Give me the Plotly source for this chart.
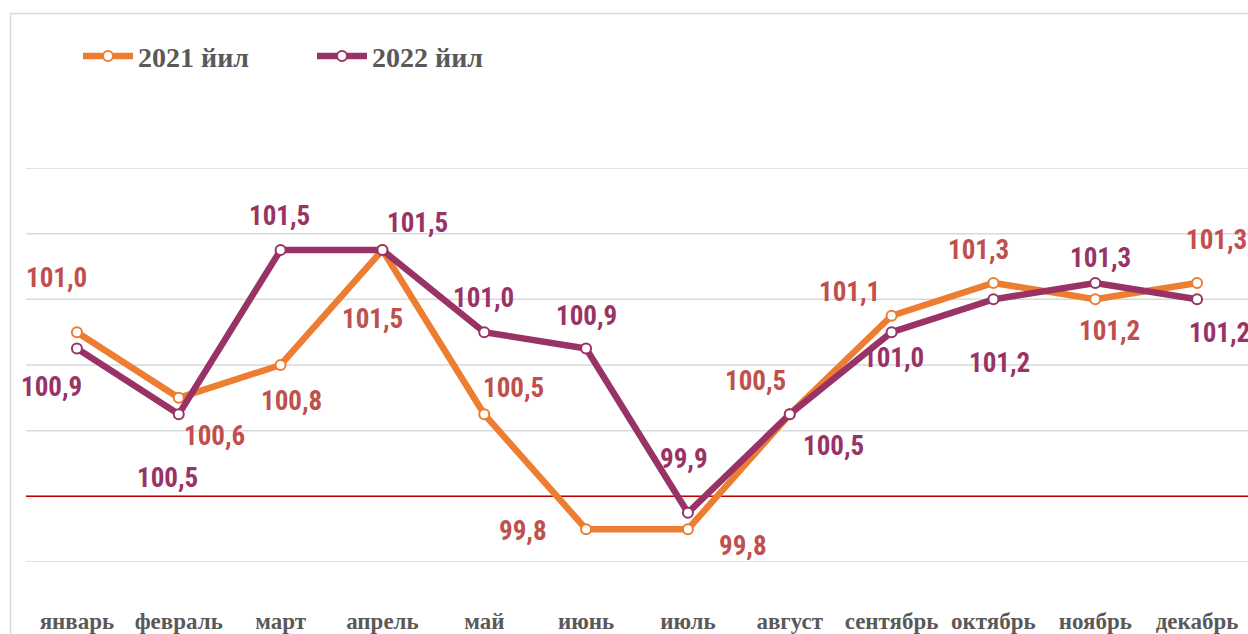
import plotly.graph_objects as go

months = ["январь", "февраль", "март", "апрель", "май", "июнь", "июль",
          "август", "сентябрь", "октябрь", "ноябрь", "декабрь"]
y2021 = [101.0, 100.6, 100.8, 101.5, 100.5, 99.8, 99.8, 100.5, 101.1, 101.3, 101.2, 101.3]
y2022 = [100.9, 100.5, 101.5, 101.5, 101.0, 100.9, 99.9, 100.5, 101.0, 101.2, 101.3, 101.2]
series_names = ["2021 йил", "2022 йил"]
grid_levels = [99.6, 100.0, 100.4, 100.8, 101.2, 101.6, 102.0]
reference_level = 100.0

# label offsets (pixels) relative to each point: (xshift, yshift)
off2021 = [(-20, 54), (36, -38), (11, -36), (-10, -69), (29, 26), (-63, -2),
           (55, -17), (-34, 33), (-42, 24), (-15, 33), (14, -32), (19, 43)]
off2022 = [(-25, -38), (-11, -64), (-1, 34), (35, 27), (-1, 34), (0, 33),
           (-4, 54), (44, -32), (2, -26), (6, -64), (5, 25), (22, -34)]

line_colors = ["#ED7D31", "#993366"]
label_colors = ["#C0504D", "#993366"]

W, H = 1248, 634
ML, MR, MT, MB = 26, 0, 168, 67
plot_w = W - ML - MR
plot_h = H - MT - MB

fig = go.Figure()
for name, ys, lc in zip(series_names, [y2021, y2022], line_colors):
    fig.add_trace(go.Scatter(
        x=months, y=ys, name="<b>" + name + "</b>", mode="lines+markers",
        line=dict(color=lc, width=6.5),
        marker=dict(size=10, color="white", line=dict(color=lc, width=2)),
        hoverinfo="skip",
    ))

label_font = "Liberation Sans Narrow, Arial Narrow, Roboto Condensed, Arial, sans-serif"
annotations = []
for ys, offs, col in [(y2021, off2021, label_colors[0]), (y2022, off2022, label_colors[1])]:
    for m, v, (dx, dy) in zip(months, ys, offs):
        annotations.append(dict(
            x=m, y=v, xref="x", yref="y",
            text="<b>" + f"{v:.1f}".replace(".", ",") + "</b>",
            showarrow=False, xshift=dx, yshift=dy,
            font=dict(family=label_font, size=27, color=col),
        ))

def px_to_paper_x(px):
    return (px - ML) / plot_w

def px_to_paper_y(py):
    return (H - MB - py) / plot_h

shapes = [
    dict(type="rect", xref="paper", yref="paper",
         x0=px_to_paper_x(10.5), x1=px_to_paper_x(1400),
         y0=px_to_paper_y(800), y1=px_to_paper_y(11.5),
         line=dict(color="#D9D9D9", width=1.5), layer="below"),
]
for g in grid_levels:
    shapes.append(dict(type="line", xref="paper", yref="y", x0=0, x1=1, y0=g, y1=g,
                       line=dict(color="#D9D9D9", width=1.5), layer="below"))
shapes.append(dict(type="line", xref="paper", yref="y", x0=0, x1=1,
                   y0=reference_level, y1=reference_level,
                   line=dict(color="#C00000", width=1.5), layer="below"))

fig.update_layout(
    width=W, height=H,
    margin=dict(l=ML, r=MR, t=MT, b=MB),
    paper_bgcolor="white", plot_bgcolor="white",
    showlegend=True,
    legend=dict(
        orientation="h", x=px_to_paper_x(78), y=px_to_paper_y(55),
        xanchor="left", yanchor="middle",
        font=dict(family="Liberation Serif, Times New Roman, serif", size=28, color="#595959"),
        itemwidth=50, entrywidth=169, entrywidthmode="pixels",
        bgcolor="rgba(0,0,0,0)",
    ),
    xaxis=dict(
        type="category", range=[-0.5, 11.5], showgrid=False, zeroline=False,
        showline=False, ticks="", ticklabelstandoff=43,
        tickfont=dict(family="Liberation Serif, Times New Roman, serif", size=23, color="#595959"),
        tickprefix="<b>", ticksuffix="</b>",
    ),
    yaxis=dict(
        range=[99.6, 102.0], showgrid=False, zeroline=False, showline=False,
        showticklabels=False, ticks="",
    ),
    annotations=annotations,
    shapes=shapes,
)

fig.write_html("out.html", config={"displayModeBar": False},
               post_script="document.body.style.margin='0';document.body.style.overflow='hidden';")
